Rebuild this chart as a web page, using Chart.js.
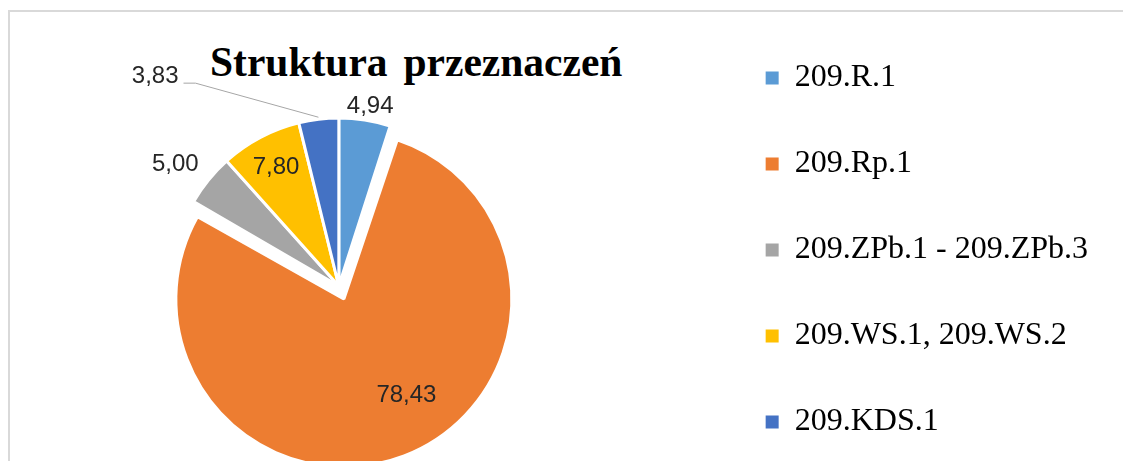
<!DOCTYPE html>
<html lang="pl">
<head>
<meta charset="utf-8">
<title>Struktura przeznaczeń</title>
<script src="https://cdn.jsdelivr.net/npm/chart.js@4/dist/chart.umd.min.js"></script>
<style>
    html, body {
        margin: 0;
        width: 1123px;
        height: 461px;
        overflow: hidden;
        background: #fff;
    }

    .frame {
        position: absolute;
        left: 8px;
        top: 10px;
        width: 1200px;
        height: 600px;
        border-top: 2px solid #d9d9d9;
        border-left: 2px solid #d9d9d9;
    }

    .title {
        position: absolute;
        left: 210px;
        top: 42px;
        margin: 0;
        font: bold 41.5px/1 "Liberation Serif", serif;
        word-spacing: 5.6px;
        color: #000;
        white-space: nowrap;
    }

    #pieChart {
        position: absolute;
        left: -34px;
        top: 0;
    }
</style>
</head>
<body>

<div class="frame"></div>
<h1 class="title">Struktura przeznaczeń</h1>
<canvas id="pieChart" width="1132" height="564"></canvas>

<script>
const categories = [
    "209.R.1",
    "209.Rp.1",
    "209.ZPb.1 - 209.ZPb.3",
    "209.WS.1, 209.WS.2",
    "209.KDS.1"
];

const shares = [4.94, 78.43, 5.00, 7.80, 3.83];

// styling only
const sliceColors = ["#5b9bd5", "#ed7d31", "#a5a5a5", "#ffc000", "#4472c4"];
const sliceOffset = [0, 56, 0, 0, 0];

// label placement: distance as part of radius, turn in degrees from mid angle
const labelDistance = [1.087, 0.745, 1.215, 0.80, 1.66];
const labelTurn = [1, -12, -2.4, 0, -34.3];
const labelLeader = [false, false, false, false, true];

function formatShare(v) {
    return v.toFixed(2).replace(".", ",");
}

// exploded slice keeps the same radius as the others
const keepRadius = {
    id: "keepRadius",
    beforeDatasetsDraw(chart) {
        const meta = chart.getDatasetMeta(0);
        meta.data.forEach(arc => {
            const lift = (arc.options.offset || 0) / 4;
            const fix = 1 - Math.sin(Math.min(Math.PI, arc.circumference));
            arc.outerRadius = meta.controller.outerRadius - lift * fix;
        });
    }
};

const sliceLabels = {
    id: "sliceLabels",
    afterDatasetsDraw(chart) {
        const ctx = chart.ctx;
        const meta = chart.getDatasetMeta(0);
        ctx.save();
        ctx.font = "24px 'Liberation Sans', sans-serif";
        ctx.textAlign = "center";
        ctx.textBaseline = "middle";
        meta.data.forEach((arc, i) => {
            const mid = (arc.startAngle + arc.endAngle) / 2;
            const lift = (arc.options.offset || 0) / 4;
            const cx = arc.x + Math.cos(mid) * lift;
            const cy = arc.y + Math.sin(mid) * lift;
            const a = mid + labelTurn[i] * Math.PI / 180;
            const r = arc.outerRadius * labelDistance[i];
            const lx = cx + Math.cos(a) * r;
            const ly = cy + Math.sin(a) * r;
            const text = formatShare(shares[i]);

            if (labelLeader[i]) {
                const w = ctx.measureText(text).width;
                const sx = lx + w / 2 + 5;
                const sy = ly + 7;
                const ex = cx + Math.cos(mid) * (arc.outerRadius + 2);
                const ey = cy + Math.sin(mid) * (arc.outerRadius + 2);
                ctx.beginPath();
                ctx.strokeStyle = "#a6a6a6";
                ctx.lineWidth = 1;
                ctx.moveTo(sx, sy);
                ctx.lineTo(sx + 12, sy);
                ctx.lineTo(ex, ey);
                ctx.stroke();
            }

            ctx.fillStyle = "#262626";
            ctx.fillText(text, lx, ly);
        });
        ctx.restore();
    }
};

function createPieChart() {

    const ctx = document.getElementById("pieChart");

    if (!ctx) return;

    new Chart(ctx, {

        type: "pie",

        data: {
            labels: categories,
            datasets: [
                {
                    data: shares,
                    backgroundColor: sliceColors,
                    borderColor: "#ffffff",
                    borderWidth: 3,
                    offset: sliceOffset
                }
            ]
        },

        options: {
            responsive: false,
            animation: false,
            events: [],
            radius: 168,
            layout: {
                padding: { top: 8, left: 0, right: 0, bottom: 0 }
            },
            plugins: {
                title: { display: false },
                tooltip: { enabled: false },
                legend: {
                    position: "right",
                    align: "start",
                    labels: {
                        boxWidth: 13,
                        boxHeight: 13,
                        padding: 54,
                        color: "#000000",
                        font: { family: "'Liberation Serif', serif", size: 32 },
                        generateLabels(chart) {
                            const items = Chart.overrides.doughnut.plugins.legend.labels.generateLabels(chart);
                            items.forEach(item => { item.lineWidth = 0; });
                            return items;
                        }
                    }
                }
            }
        },

        plugins: [keepRadius, sliceLabels]

    });

}

createPieChart();
</script>
</body>
</html>
